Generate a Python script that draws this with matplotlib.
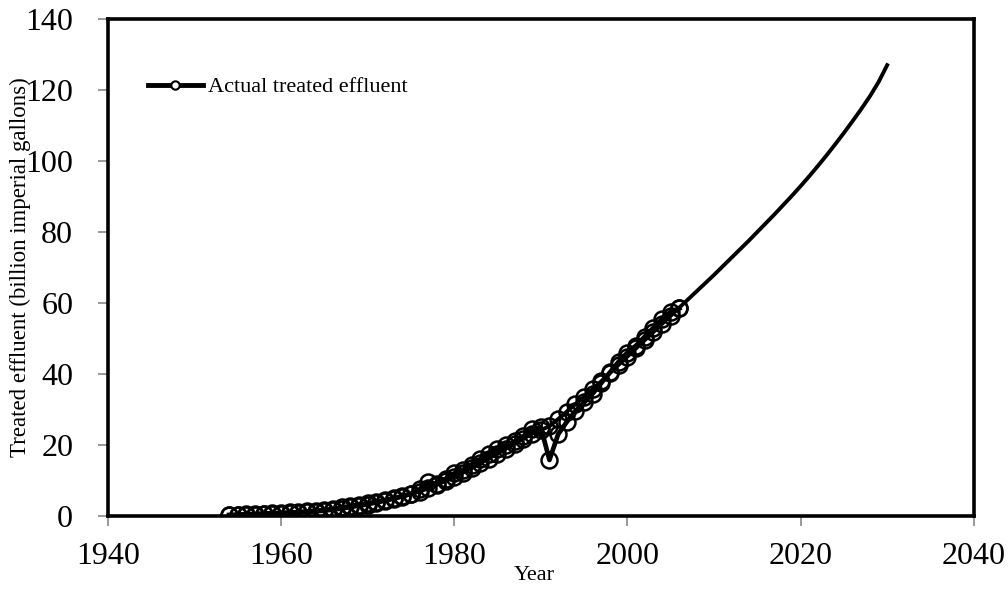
import matplotlib
matplotlib.use("Agg")
import matplotlib.pyplot as plt
from matplotlib.lines import Line2D

plt.rcParams['font.family'] = ['Liberation Serif', 'DejaVu Serif']

# Actual treated effluent (billion imperial gallons), 1954-2006
actual_years = list(range(1954, 2007))
actual_values = [0.3, 0.4, 0.5, 0.6, 0.7, 0.8, 0.9, 1.0, 1.1, 1.3,
                 1.5, 1.7, 2.0, 2.4, 2.8, 3.2, 3.6, 4.0, 4.5, 5.0,
                 5.6, 6.3, 7.5, 9.5, 9.0, 10.5, 12.0, 13.0, 14.5, 16.0,
                 17.5, 19.0, 20.0, 21.0, 22.5, 24.5, 25.0, 15.8, 23.0, 26.5,
                 29.5, 32.0, 34.5, 37.5, 40.5, 43.5, 46.0, 48.0, 50.5, 53.0,
                 55.5, 57.5, 58.5]

# Fitted / projected curve, 1954-2030
model_years = list(range(1954, 2031))
model_values = [0.2, 0.3, 0.35, 0.4, 0.5, 0.6, 0.7, 0.8, 0.9, 1.0,
                1.2, 1.4, 1.7, 2.0, 2.4, 2.8, 3.2, 3.7, 4.2, 4.8,
                5.4, 6.1, 6.9, 7.8, 8.8, 9.9, 11.0, 12.2, 13.5, 14.8,
                16.2, 17.6, 19.0, 20.4, 21.8, 23.2, 24.2, 25.3, 27.3, 29.4,
                31.5, 33.6, 35.8, 38.0, 40.3, 42.6, 44.9, 47.2, 49.5, 51.8,
                54.1, 56.4, 58.7, 61.0, 63.3, 65.6, 67.9, 70.3, 72.7, 75.1,
                77.5, 80.0, 82.5, 85.0, 87.6, 90.2, 92.9, 95.7, 98.6, 101.6,
                104.7, 107.9, 111.2, 114.6, 118.2, 122.2, 127.0]

x_ticks = [1940, 1960, 1980, 2000, 2020, 2040]
y_ticks = [0, 20, 40, 60, 80, 100, 120, 140]

fig = plt.figure(figsize=(10.08, 5.9), dpi=100)
ax = fig.add_axes([0.107, 0.1254, 0.859, 0.8424])

n_hist = len(actual_years)
ax.plot(model_years, model_values, color='black', lw=2.8,
        marker='o', markersize=11.5, markerfacecolor='none',
        markeredgewidth=1.8, markeredgecolor='black',
        markevery=list(range(n_hist)), zorder=3)
ax.plot(actual_years, actual_values, color='black', lw=3.4,
        marker='o', markersize=11.5, markerfacecolor='none',
        markeredgewidth=1.8, markeredgecolor='black', zorder=4)

ax.set_xlim(1940, 2040)
ax.set_ylim(0, 140)
ax.set_xticks(x_ticks)
ax.set_yticks(y_ticks)
ax.tick_params(axis='both', labelsize=23, direction='out', length=7,
               width=1.2, color='#888888')
ax.tick_params(axis='x', pad=12)
ax.tick_params(axis='y', pad=18)

for s in ax.spines.values():
    s.set_color('black')
    s.set_linewidth(2.6)

ax.set_xlabel('Year', fontsize=16)
ax.xaxis.set_label_coords(0.493, -0.1)
ax.set_ylabel('Treated effluent (billion imperial gallons)', fontsize=16.5)
ax.yaxis.set_label_coords(-0.089, 0.5)

handle = Line2D([], [], color='black', lw=3.5, marker='o', markersize=6,
                markerfacecolor='white', markeredgewidth=1.5,
                markeredgecolor='black')
ax.legend([handle], ['Actual treated effluent'], loc='center left',
          bbox_to_anchor=(0.046, 0.863), frameon=False, fontsize=16,
          handlelength=2.5, handletextpad=0.2, borderpad=0,
          borderaxespad=0)

fig.savefig('out.png', dpi=100)
